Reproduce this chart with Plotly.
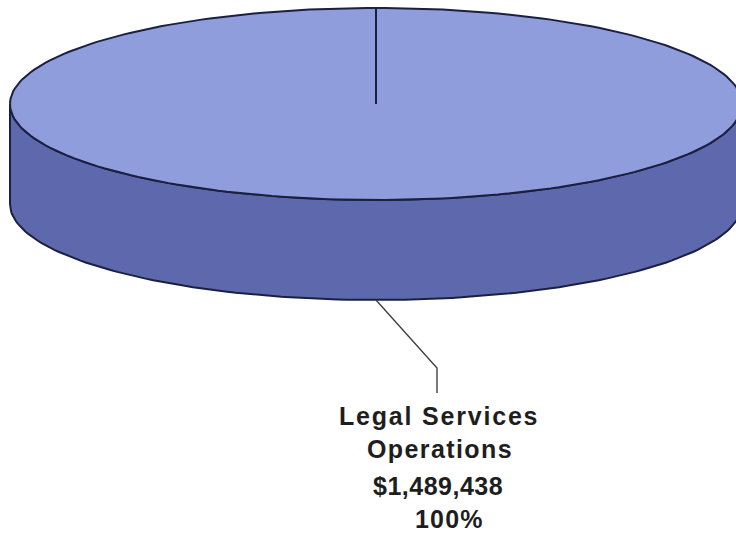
import math
import plotly.graph_objects as go

# ---- data ----
label_lines = [["Legal Services", "Operations"]]
amounts = [1489438]

# ---- styling / geometry (pixels in a 736 x 538 canvas) ----
W, H = 736, 538
CX, CY = 376, 104          # centre of the top face
RX, RY = 366, 96           # ellipse radii of the top face
DEPTH = 100                # thickness of the pie
TOP_COLORS = ["#909ddd"]
SIDE_COLORS = ["#5d68ad"]
EDGE = "#1b2040"

total = sum(amounts)


def pt(theta_deg, dz=0.0):
    """Point on the pie rim; angle clockwise from 12 o'clock."""
    t = math.radians(theta_deg)
    return CX + RX * math.sin(t), CY - RY * math.cos(t) + dz


def arc(a0, a1, dz=0.0, n=240):
    steps = max(2, int(n * abs(a1 - a0) / 360) + 1)
    xs, ys = [], []
    for i in range(steps):
        a = a0 + (a1 - a0) * i / (steps - 1)
        x, y = pt(a, dz)
        xs.append(x)
        ys.append(y)
    return xs, ys


fig = go.Figure()

# slice angles from the values
angles = []
start = 0.0
for v in amounts:
    span = 360.0 * v / total
    angles.append((start, start + span))
    start += span

# front side walls (visible between 90 and 270 degrees)
for i, (a0, a1) in enumerate(angles):
    s0, s1 = max(a0, 90.0), min(a1, 270.0)
    if s1 <= s0:
        continue
    tx, ty = arc(s0, s1)
    bx, by = arc(s1, s0, DEPTH)
    fig.add_trace(go.Scatter(
        x=tx + bx + [tx[0]], y=ty + by + [ty[0]],
        mode="lines", fill="toself", fillcolor=SIDE_COLORS[i],
        line=dict(color=EDGE, width=2), hoverinfo="skip", showlegend=False))

# top faces (wedges from the centre)
for i, (a0, a1) in enumerate(angles):
    ax, ay = arc(a0, a1)
    fig.add_trace(go.Scatter(
        x=[CX] + ax + [CX], y=[CY] + ay + [CY],
        mode="lines", fill="toself", fillcolor=TOP_COLORS[i],
        line=dict(color=EDGE, width=2), hoverinfo="skip", showlegend=False))

# label with leader line from the slice's mid-angle on the lower rim
LABEL_X = 437
ELBOW_Y, LEADER_END_Y = 368, 393
LINE_Y = [416, 449, 486, 519]
LINE_X = [439, 440, 438, 449]
SPACING = ["1.8px", "1.4px", "0.5px", "1.2px"]
for i, (a0, a1) in enumerate(angles):
    mid = (a0 + a1) / 2
    sx, sy = pt(mid, DEPTH)
    fig.add_trace(go.Scatter(
        x=[sx, LABEL_X, LABEL_X], y=[sy, ELBOW_Y, LEADER_END_Y],
        mode="lines", line=dict(color="#404040", width=1.4),
        hoverinfo="skip", showlegend=False))
    pct = 100.0 * amounts[i] / total
    texts = label_lines[i] + [f"${amounts[i]:,.0f}", f"{pct:.0f}%"]
    for t, x, y, ls in zip(texts, LINE_X, LINE_Y, SPACING):
        fig.add_annotation(
            x=x, y=y, xref="x", yref="y", showarrow=False,
            xanchor="center", yanchor="middle",
            text=f'<span style="letter-spacing:{ls}">{t}</span>',
            font=dict(family="Liberation Sans, Arial, sans-serif",
                      size=25, color="#1e1e1e", weight="bold"))

fig.update_layout(
    width=W, height=H, margin=dict(l=0, r=0, t=0, b=0),
    paper_bgcolor="white", plot_bgcolor="white",
    xaxis=dict(range=[0, W], visible=False, fixedrange=True),
    yaxis=dict(range=[H, 0], visible=False, fixedrange=True),
    showlegend=False,
)

fig.write_html("out.html")
